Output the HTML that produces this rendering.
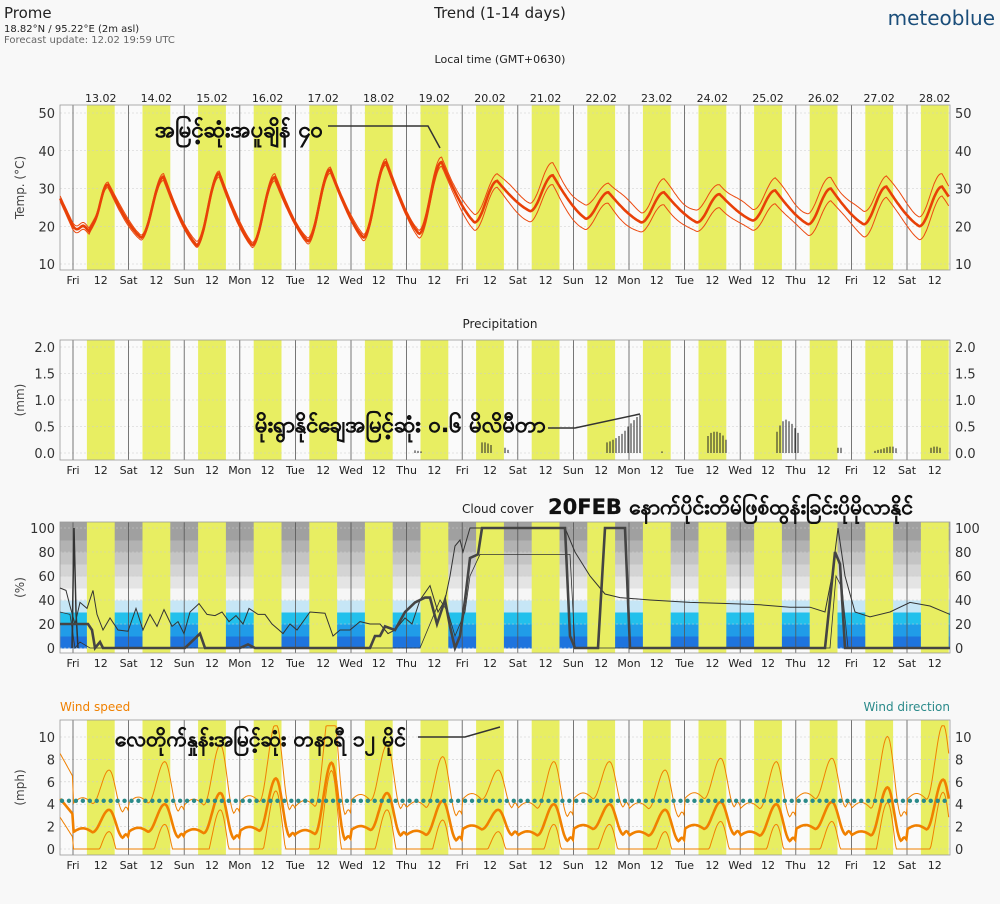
<!DOCTYPE html>
<html><head><meta charset="utf-8">
<style>
html,body{margin:0;padding:0;background:#f8f8f8;}
body{width:1000px;height:900px;overflow:hidden;font-family:"DejaVu Sans","Liberation Sans",sans-serif;}
svg text{font-family:"DejaVu Sans","Liberation Sans",sans-serif;}
</style></head>
<body>
<svg id="s" width="1000" height="900" xmlns="http://www.w3.org/2000/svg">
<text x="4" y="18" font-size="15" fill="#222">Prome</text>
<text x="4" y="32" font-size="10" fill="#222">18.82°N / 95.22°E (2m asl)</text>
<text x="4" y="43" font-size="10" fill="#666">Forecast update: 12.02 19:59 UTC</text>
<text x="500" y="18" font-size="15" fill="#222" text-anchor="middle">Trend (1-14 days)</text>
<text x="995" y="25" font-size="20" fill="#1b4e7a" text-anchor="end">meteoblue</text>
<text x="500" y="63" font-size="11" fill="#222" text-anchor="middle">Local time (GMT+0630)</text>
<text x="500" y="328" font-size="12" fill="#222" text-anchor="middle">Precipitation</text>
<text x="462" y="513" font-size="12" fill="#222">Cloud cover</text>
<text x="60" y="711" font-size="12" fill="#f08000">Wind speed</text>
<text x="950" y="711" font-size="12" fill="#2a8a8a" text-anchor="end">Wind direction</text>
<g id="g"></g>
</svg>
<script>
var NS="http://www.w3.org/2000/svg",g=document.getElementById('g');
function el(t,a,txt){var e=document.createElementNS(NS,t);for(var k in a)e.setAttribute(k,a[k]);if(txt!=null)e.textContent=txt;g.appendChild(e);return e;}
var L=60,R=950,D=55.6,X0=73;
function X(t){return X0+D*t;}
var days=['Fri','Sat','Sun','Mon','Tue','Wed','Thu'];
var panels=[
 {top:105,bot:270,v0:10,v1:50,y0:264,y1:113,ticks:[10,20,30,40,50],lab:'Temp. (°C)'},
 {top:340,bot:460,v0:0,v1:2,y0:453,y1:347,ticks:[0,0.5,1,1.5,2],lab:'(mm)',fmt:1},
 {top:522,bot:653,v0:0,v1:100,y0:648,y1:528,ticks:[0,20,40,60,80,100],lab:'(%)'},
 {top:720,bot:855,v0:0,v1:10,y0:849,y1:737,ticks:[0,2,4,6,8,10],lab:'(mph)'}
];
function Y(p,v){return p.y0+(v-p.v0)*(p.y1-p.y0)/(p.v1-p.v0);}
var bands=['#1e74de','#209ce8','#22c0ec','#c6e6f6','#f6f6f6','#e4e4e4','#d4d4d4','#c4c4c4','#b2b2b2','#a0a0a0'];
panels.forEach(function(p,pi){
 el('rect',{x:L,y:p.top,width:R-L,height:p.bot-p.top,fill:'#fafafa'});
 if(pi==2){for(var b=0;b<10;b++){el('rect',{x:L,y:Y(p,(b+1)*10),width:R-L,height:Y(p,0)-Y(p,10)+0.5,fill:bands[b]});}
  el('rect',{x:L,y:p.top,width:R-L,height:Y(p,100)-p.top,fill:bands[9]});}
 for(var k=0;k<16;k++){var x1=X(k+0.25),x2=X(k+0.75);if(x1>R)break;el('rect',{x:x1,y:p.top,width:Math.min(x2,R)-x1,height:p.bot-p.top,fill:'#e8ee62'});}
 p.ticks.forEach(function(v){var y=Y(p,v);el('line',{x1:L,x2:R,y1:y,y2:y,stroke:'#ccc','stroke-width':0.6,'stroke-dasharray':'2,2'});
  var s=p.fmt?v.toFixed(1):v;el('text',{x:L-5,y:y+5,'font-size':13,fill:'#333','text-anchor':'end'},s);el('text',{x:R+5,y:y+5,'font-size':13,fill:'#333'},s);});
 for(var k=0;k<16;k++){var x=X(k);if(x>R)break;el('line',{x1:x,x2:x,y1:p.top,y2:p.bot,stroke:'#555','stroke-width':0.8});
  el('text',{x:x,y:p.bot+14,'font-size':11,fill:'#222','text-anchor':'middle'},days[k%7]);
  if(X(k+0.5)<R)el('text',{x:X(k+0.5),y:p.bot+14,'font-size':11,fill:'#222','text-anchor':'middle'},'12');}
 el('rect',{x:L,y:p.top,width:R-L,height:p.bot-p.top,fill:'none',stroke:'#999','stroke-width':0.8});
 el('text',{x:0,y:0,'font-size':12,fill:'#444','text-anchor':'middle',transform:'translate(24,'+((p.top+p.bot)/2)+') rotate(-90)'},p.lab);
});
for(var k=0;k<16;k++){el('text',{x:X(k+0.5),y:102,'font-size':11,fill:'#222','text-anchor':'middle'},(13+k)+'.02');}
// temperature
var mn=[20,17,15,15,16,17,18,21,24,22,21,21,21.5,20.5,20.5,20,20],mx=[31,33,34,33,35,37,37,32,33.5,29,29,28.5,29.5,30,30.5,30.5,30];
function T(t){
 if(t<0)return 27.5-(t+0.234)/0.234*7.5;
 var n=Math.floor(t),f=t-n,a,b,u;
 if(n==0&&f<0.3){return 20-0.6*Math.sin(f*25)-f*3;}
 if(n==0&&f<0.63){u=(f-0.3)/0.33;return 19+(31-19)*(1-Math.cos(Math.PI*u))/2+0.8*Math.sin(u*9)*(1-u);}
 if(f<0.22){a=mx[n-1];b=mn[n];u=(f+0.37)/0.59;}else if(f<0.63){a=mn[n];b=mx[n];u=(f-0.22)/0.41;return a+(b-a)*(1-Math.cos(Math.PI*u))/2;}else{a=mx[n];b=mn[n+1];u=(f-0.63)/0.59;}
 return a+(b-a)*(0.55*u+0.45*Math.sin(u*Math.PI/2));}
var P=panels[0];
function path(fn,p,t0,t1,st){var d='';for(var t=t0;t<=t1;t+=0.02){var v=fn(t);d+=(d?'L':'M')+X(t).toFixed(1)+','+Y(p,v).toFixed(1);}return el('path',Object.assign({d:d,fill:'none'},st));}
function spread(t){return t<6?0.8:Math.min(3,0.8+(t-6)*0.8);}
path(function(t){return T(t)+spread(t)*(1+0.2*Math.sin(t*9))},P,-0.23,15.76,{stroke:'#ec4a10','stroke-width':1});
path(function(t){return T(t)-spread(t)*(1+0.2*Math.cos(t*7))},P,-0.23,15.76,{stroke:'#ec4a10','stroke-width':1});
path(function(t){return T(t)+0.4*Math.sin(t*5)},P,-0.23,6.5,{stroke:'#ec4a10','stroke-width':1});
path(T,P,-0.23,15.76,{stroke:'#e84008','stroke-width':2.6});
// precip
var pr=[[415,0.05],[418,0.04],[421,0.03],[482,0.2],[485,0.2],[488,0.18],[491,0.15],[505,0.1],[508,0.06],[607,0.2],[610,0.22],[613,0.25],[616,0.28],[619,0.32],[622,0.36],[625,0.42],[628,0.5],[631,0.56],[634,0.62],[637,0.68],[640,0.72],[662,0.03],[708,0.32],[711,0.38],[714,0.4],[717,0.4],[720,0.38],[723,0.33],[726,0.25],[777,0.4],[780,0.52],[783,0.6],[786,0.63],[789,0.6],[792,0.55],[795,0.47],[798,0.38],[838,0.1],[841,0.1],[875,0.04],[878,0.06],[881,0.07],[884,0.09],[887,0.11],[890,0.12],[893,0.12],[896,0.09],[931,0.1],[934,0.12],[937,0.12],[940,0.1]];
var P1=panels[1];
pr.forEach(function(q){el('line',{x1:q[0],x2:q[0],y1:Y(P1,0),y2:Y(P1,q[1]),stroke:'#222','stroke-width':1});});
// cloud
var P2=panels[2];
function poly(pts,p,st){var d='';pts.forEach(function(q,i){d+=(i?'L':'M')+q[0]+','+Y(p,q[1]).toFixed(1);});return el('path',Object.assign({d:d,fill:'none'},st));}
var thin=[[60,50],[66,48],[70,35],[75,20],[80,38],[87,33],[93,48],[97,28],[103,15],[110,25],[118,15],[128,14],[136,33],[143,15],[150,28],[157,18],[164,32],[172,18],[178,22],[184,12],[190,30],[199,37],[207,28],[215,27],[222,30],[229,22],[236,27],[243,20],[249,33],[258,28],[265,28],[272,20],[279,15],[283,12],[290,20],[297,15],[310,30],[325,29],[333,10],[340,15],[350,15],[360,22],[370,20],[380,20],[388,12],[395,15],[405,25],[412,20],[420,40],[430,52],[438,30],[445,40],[450,60],[455,85],[460,90],[463,80],[470,100],[565,100],[575,80],[590,60],[605,45],[620,42],[650,40],[690,38],[730,37],[760,36],[790,34],[810,34],[825,30],[832,60],[838,100],[845,60],[855,30],[870,26],[890,30],[910,38],[930,35],[950,28]];
poly(thin,P2,{stroke:'#333','stroke-width':1});
poly([[60,30],[70,28],[75,0],[80,5],[90,0],[420,0],[430,20],[440,40],[448,30],[455,10],[465,30],[470,60],[480,78],[570,78],[575,0],[830,0],[836,60],[842,50],[848,0],[950,0]],P2,{stroke:'#333','stroke-width':0.8});
poly([[72,0],[74,100],[76,30],[78,0]],P2,{stroke:'#333','stroke-width':1.5});
poly([[60,20],[88,20],[92,15],[95,0],[100,5],[103,0],[185,0],[195,8],[200,12],[205,0],[240,0],[248,3],[255,0],[370,0],[375,10],[380,10],[385,18],[395,15],[405,30],[415,38],[425,42],[430,42],[437,20],[445,40],[450,18],[455,0],[460,10],[465,40],[470,75],[478,78],[482,100],[565,100],[570,10],[575,0],[598,0],[605,100],[625,100],[630,0],[825,0],[835,80],[840,70],[845,0],[950,0]],P2,{stroke:'#444','stroke-width':2.6});
// wind
var P3=panels[3];
var wp=[3.5,4,5,6.3,7.7,5,4.3,3.5,4,4,3.5,4.2,4,4.2,5.5,6.2,6];
function W(t){var n=Math.floor(t),f=t-n;if(n<0){return 4.5-(t+0.234)*6;}
 var pk=wp[n],lo=1+0.3*Math.sin(n*3),v;
 if(f<0.35)v=lo+0.7*Math.sin(f*9)*0.5+0.5;else if(f<0.65){var u=(f-0.35)/0.3;v=lo+0.5+(pk-lo-0.5)*(1-Math.cos(Math.PI*u))/2;}else if(f<0.9){var u=(f-0.65)/0.25;v=pk-(pk-lo)*(1-Math.cos(Math.PI*u))/2;}else v=lo+0.3*Math.sin((f-0.9)*30);
 return Math.max(0.3,v);}
path(function(t){return Math.min(11,W(t)*1.5+1.8)},P3,-0.23,15.76,{stroke:'#f08000','stroke-width':1});
path(function(t){return Math.max(0,W(t)*1.3-3)},P3,-0.23,15.76,{stroke:'#f08000','stroke-width':1});
path(W,P3,-0.23,15.76,{stroke:'#f08000','stroke-width':2.6});
for(var x=62;x<=950;x+=6.95){el('circle',{cx:x,cy:Y(P3,4.3),r:2.2,fill:'#2a8a8a'});}
// annotations
function ann(x,y,s,size,pts){el('text',{x:x,y:y,'font-size':size,'font-weight':'bold',fill:'#111',stroke:'#111','stroke-width':0.3},s);var d='';pts.forEach(function(q,i){d+=(i?'L':'M')+q[0]+','+q[1];});if(d)el('path',{d:d,fill:'none',stroke:'#333','stroke-width':1.5});}
ann(155,137,'အမြင့်ဆုံးအပူချိန် ၄၀',22,[[328,126],[428,126],[440,148]]);
ann(255,432,'မိုးရွာနိုင်ချေအမြင့်ဆုံး ၀.၆ မိလိမီတာ',22,[[548,428],[575,428],[640,414]]);
ann(548,514,'20FEB နောက်ပိုင်းတိမ်ဖြစ်ထွန်းခြင်းပိုမိုလာနိုင်',21,[]);
ann(115,746,'လေတိုက်နှုန်းအမြင့်ဆုံး တနာရီ ၁၂ မိုင်',21,[[418,737],[465,737],[500,727]]);
</script>
</body></html>
